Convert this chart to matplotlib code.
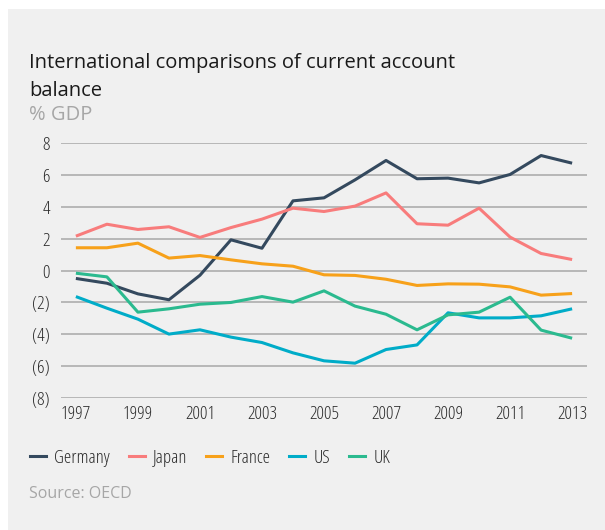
import matplotlib
matplotlib.use("Agg")
import matplotlib.pyplot as plt
from matplotlib import font_manager
from matplotlib.font_manager import FontProperties
from matplotlib.patches import Rectangle
from matplotlib.lines import Line2D

# data (% of GDP)
years = list(range(1997, 2014))
germany = [-0.5, -0.8, -1.47, -1.84, -0.3, 1.93, 1.4, 4.38, 4.57, 5.7, 6.92, 5.77, 5.81, 5.51, 6.04, 7.23, 6.75]
japan = [2.16, 2.91, 2.58, 2.75, 2.08, 2.7, 3.23, 3.92, 3.71, 4.05, 4.88, 2.94, 2.85, 3.92, 2.1, 1.07, 0.69]
france = [1.43, 1.43, 1.72, 0.78, 0.94, 0.67, 0.42, 0.27, -0.27, -0.31, -0.55, -0.94, -0.84, -0.86, -1.03, -1.55, -1.45]
us = [-1.64, -2.37, -3.06, -4.0, -3.73, -4.19, -4.53, -5.18, -5.68, -5.83, -4.97, -4.68, -2.66, -2.98, -2.98, -2.85, -2.41]
uk = [-0.17, -0.4, -2.62, -2.41, -2.12, -2.01, -1.64, -1.99, -1.28, -2.24, -2.75, -3.73, -2.79, -2.62, -1.68, -3.75, -4.26]

series_names = ["Germany", "Japan", "France", "US", "UK"]
series_vals = [germany, japan, france, us, uk]
colors = ["#34495e", "#f87c7c", "#f7a11a", "#00acc8", "#2bba8f"]

y_ticks = [8, 6, 4, 2, 0, -2, -4, -6, -8]
y_labels = ["8", "6", "4", "2", "0", "(2)", "(4)", "(6)", "(8)"]
x_ticks = list(range(1997, 2014, 2))

# the condensed light cut of Open Sans is registered under plain "Open Sans"
cond_file = None
for f in font_manager.fontManager.ttflist:
    if f.fname.endswith("OpenSans-CondLight.ttf"):
        cond_file = f.fname
        break


def narrow(size):
    if cond_file:
        return FontProperties(fname=cond_file, size=size)
    return FontProperties(family=["Roboto Condensed", "DejaVu Sans"], weight="light", size=size)


sans = ["Open Sans", "DejaVu Sans"]

fig = plt.figure(figsize=(6.05, 5.3), dpi=100)
fig.patch.set_facecolor("white")
# grey panel behind everything
fig.patches.append(Rectangle((8 / 605, 0), 1, 1 - 9 / 530, transform=fig.transFigure,
                             facecolor="#f0f0f0", edgecolor="none", zorder=-10))

ax = fig.add_axes([61 / 605, 132.3 / 530, 526 / 605, 254.4 / 530])
ax.patch.set_alpha(0)

for name, vals, c in zip(series_names, series_vals, colors):
    ax.plot(years, vals, color=c, lw=2.2, label=name, solid_capstyle="butt", zorder=3)

ax.set_xlim(1996.52, 2013.48)
ax.set_ylim(-8, 8)
ax.set_yticks(y_ticks)
ax.set_yticklabels(y_labels, fontproperties=narrow(13.5), color="#2b2b2b")
ax.set_xticks(x_ticks)
ax.set_xticklabels([str(y) for y in x_ticks], fontproperties=narrow(13.5), color="#2b2b2b")
ax.tick_params(axis="both", length=0)
ax.tick_params(axis="y", pad=8)
ax.tick_params(axis="x", pad=5)
ax.grid(axis="y", color="#a8a8a8", lw=1.1)
ax.set_axisbelow(True)
for s in ax.spines.values():
    s.set_visible(False)

# title block
fig.text(29 / 605, 1 - 68 / 530, "International comparisons of current account",
         family=sans, fontsize=14.5, color="#1a1a1a", va="baseline")
fig.text(29 / 605, 1 - 96 / 530, "balance",
         family=sans, fontsize=14.5, color="#1a1a1a", va="baseline")
fig.text(29 / 605, 1 - 120 / 530, "% GDP",
         family=sans, fontsize=14.5, color="#a6a6a6", va="baseline")

# legend
handles = [Line2D([], [], color=c, lw=2.2) for c in colors]
leg = fig.legend(handles, series_names, loc="center left", bbox_to_anchor=(13 / 605, 1 - 458 / 530),
                 ncol=5, frameon=False, handlelength=0.85, handletextpad=0.45, columnspacing=1.0,
                 prop=narrow(13.5))
for t in leg.get_texts():
    t.set_color("#2b2b2b")

fig.text(29 / 605, 1 - 498 / 530, "Source: OECD",
         family=sans, fontsize=11.5, color="#a6a6a6", va="baseline")

fig.savefig("out.png", dpi=100, facecolor=fig.get_facecolor())
